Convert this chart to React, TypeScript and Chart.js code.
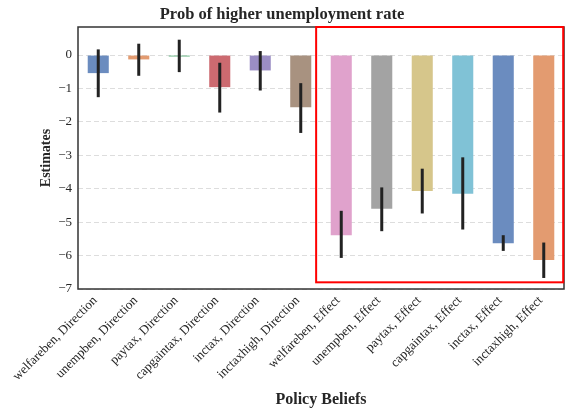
import React, { useEffect, useRef } from "react";
import { Chart, registerables } from "chart.js";

Chart.register(...registerables);

const categories = [
  "welfareben, Direction",
  "unempben, Direction",
  "paytax, Direction",
  "capgaintax, Direction",
  "inctax, Direction",
  "inctaxhigh, Direction",
  "welfareben, Effect",
  "unempben, Effect",
  "paytax, Effect",
  "capgaintax, Effect",
  "inctax, Effect",
  "inctaxhigh, Effect",
];
const estimates = [-0.54, -0.13, -0.04, -0.96, -0.46, -1.56, -5.39, -4.6, -4.07, -4.15, -5.63, -6.13];
const ciHigh = [0.17, 0.34, 0.46, -0.23, 0.12, -0.84, -4.66, -3.96, -3.4, -3.06, -5.39, -5.61];
const ciLow = [-1.26, -0.62, -0.51, -1.72, -1.06, -2.33, -6.07, -5.27, -4.74, -5.22, -5.86, -6.67];
const barColors = [
  "#6b8cbf", "#e39b70", "#6fb98a", "#cc6a70", "#9b8ec4", "#a89280",
  "#e0a2cc", "#a3a3a3", "#d6c68b", "#80c2d6", "#6b8cbf", "#e39b70",
];
const yTicks = [-7, -6, -5, -4, -3, -2, -1, 0];
const yMin = -7;
const yMax = 0.84;
// highlight box (in category-index / value units)
const boxFrom = 5.38;
const boxTo = 11.48;
const boxBottom = -6.8;

const SERIF = "'Liberation Serif', 'Times New Roman', serif";

const overlayPlugin = {
  id: "overlay",
  afterDatasetsDraw(chart: any) {
    const { ctx, chartArea, scales } = chart;
    const x = scales.x;
    const y = scales.y;
    const meta = chart.getDatasetMeta(0);
    ctx.save();
    // error bars
    ctx.strokeStyle = "#222222";
    ctx.lineWidth = 3;
    ctx.lineCap = "butt";
    meta.data.forEach((bar: any, i: number) => {
      ctx.beginPath();
      ctx.moveTo(bar.x, y.getPixelForValue(ciHigh[i]));
      ctx.lineTo(bar.x, y.getPixelForValue(ciLow[i]));
      ctx.stroke();
    });
    // frame
    ctx.strokeStyle = "#333333";
    ctx.lineWidth = 1.5;
    ctx.strokeRect(chartArea.left, chartArea.top, chartArea.right - chartArea.left, chartArea.bottom - chartArea.top);
    // red highlight box
    ctx.strokeStyle = "#ff0000";
    ctx.lineWidth = 2;
    const l = x.getPixelForValue(boxFrom);
    const r = x.getPixelForValue(boxTo);
    const t = chartArea.top;
    const b = y.getPixelForValue(boxBottom);
    ctx.strokeRect(l, t, r - l, b - t);
    ctx.restore();
  },
};

export default function App() {
  const ref = useRef<HTMLCanvasElement>(null);
  useEffect(() => {
    if (!ref.current) return;
    const chart = new Chart(ref.current, {
      type: "bar",
      data: {
        labels: categories,
        datasets: [
          {
            data: estimates,
            backgroundColor: barColors,
            borderWidth: 0,
            barPercentage: 0.52,
            categoryPercentage: 1,
            minBarLength: 1.5,
          },
        ],
      },
      options: {
        animation: false,
        responsive: false,
        maintainAspectRatio: false,
        layout: { padding: { left: 0, right: 2, top: 0, bottom: 0 } },
        plugins: {
          legend: { display: false },
          tooltip: { enabled: false },
          title: {
            display: true,
            text: "Prob of higher unemployment rate",
            color: "#262626",
            font: { family: SERIF, size: 16.5, weight: "bold" },
            padding: { top: 5, bottom: 2.2 },
          },
        },
        scales: {
          x: {
            grid: { display: false, drawTicks: false },
            border: { display: false },
            ticks: {
              color: "#262626",
              font: { family: SERIF, size: 13 },
              minRotation: 45,
              maxRotation: 45,
              padding: 4,
              labelOffset: -3,
              autoSkip: false,
            },
            title: {
              display: true,
              text: "Policy Beliefs",
              color: "#262626",
              font: { family: SERIF, size: 16, weight: "bold" },
              padding: { top: 0, bottom: -1 },
            },
            afterFit(scale: any) {
              scale.height = 119;
            },
          },
          y: {
            min: yMin,
            max: yMax,
            grid: {
              color: "#dddddd",
              lineWidth: 1,
              drawTicks: false,
            },
            border: { display: false, dash: [5, 3] },
            ticks: {
              stepSize: 1,
              color: "#262626",
              font: { family: SERIF, size: 13 },
              padding: 6,
              callback: (v: any) => (v < 0 ? "\u2212" + Math.abs(v) : String(v)),
            },
            afterBuildTicks(scale: any) {
              scale.ticks = yTicks.map((v) => ({ value: v }));
            },
            title: {
              display: true,
              text: "Estimates",
              color: "#262626",
              font: { family: SERIF, size: 14, weight: "bold" },
              padding: { top: 38, bottom: 0 },
            },
            afterFit(scale: any) {
              scale.width = 78;
            },
          },
        },
      } as any,
      plugins: [overlayPlugin],
    });
    return () => chart.destroy();
  }, []);
  return (
    <div style={{ position: "fixed", left: 0, top: 0, width: 566, height: 408, background: "#fff" }}>
      <canvas ref={ref} width={566} height={408} style={{ width: 566, height: 408 }} />
    </div>
  );
}
